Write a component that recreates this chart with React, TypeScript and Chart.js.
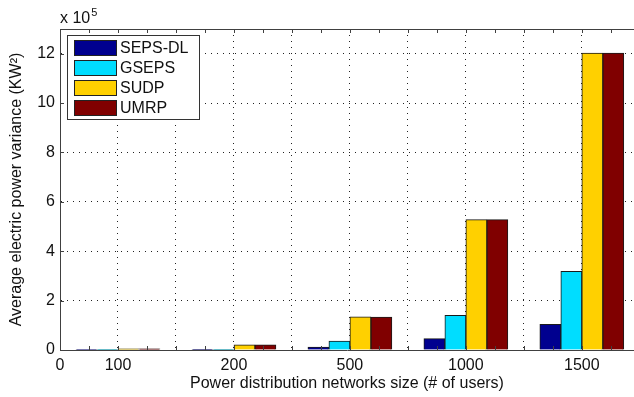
import React, { useEffect, useRef } from "react";
import { Chart, registerables } from "chart.js";

Chart.register(...registerables);

const categories = ["100", "200", "500", "1000", "1500"];
const seriesNames = ["SEPS-DL", "GSEPS", "SUDP", "UMRP"];
const sepsDL = [0.003, 0.01, 0.12, 0.46, 1.04];
const gseps = [0.01, 0.03, 0.36, 1.4, 3.19];
const sudp = [0.05, 0.21, 1.34, 5.28, 12.02];
const umrp = [0.05, 0.21, 1.33, 5.28, 12.02];
const seriesColors = ["#00008F", "#00DDFF", "#FFD000", "#800000"];
const yTicks = [0, 2, 4, 6, 8, 10, 12];

const FONT = "'Liberation Sans', Arial, Helvetica, sans-serif";

const framePlugin = {
  id: "frame",
  afterDatasetsDraw(chart: any) {
    const { ctx, chartArea } = chart;
    const xs = chart.scales.x;
    const ys = chart.scales.y;
    ctx.save();
    ctx.strokeStyle = "#404040";
    ctx.lineWidth = 1;
    ctx.beginPath();
    ctx.moveTo(chartArea.left, Math.round(chartArea.top) + 0.5);
    ctx.lineTo(chartArea.right, Math.round(chartArea.top) + 0.5);
    ctx.stroke();
    for (let v = 0; v <= xs.max; v += 0.25) {
      const px = Math.round(xs.getPixelForValue(v)) + 0.5;
      ctx.beginPath();
      ctx.moveTo(px, chartArea.top);
      ctx.lineTo(px, chartArea.top + 4);
      ctx.moveTo(px, chartArea.bottom);
      ctx.lineTo(px, chartArea.bottom - 4);
      ctx.stroke();
    }
    for (const v of yTicks) {
      const py = Math.round(ys.getPixelForValue(v)) + 0.5;
      ctx.beginPath();
      ctx.moveTo(chartArea.left, py);
      ctx.lineTo(chartArea.left + 4, py);
      ctx.stroke();
    }
    ctx.restore();
  },
  afterDraw(chart: any) {
    const { ctx, chartArea } = chart;
    ctx.save();
    ctx.fillStyle = "#111";
    ctx.textBaseline = "alphabetic";
    ctx.textAlign = "left";
    ctx.font = `16px ${FONT}`;
    const base = "x 10";
    ctx.fillText(base, chartArea.left, 23);
    const w = ctx.measureText(base).width;
    ctx.font = `11px ${FONT}`;
    ctx.fillText("5", chartArea.left + w + 1, 16);
    const lx = 67.5, ly = 35.5, lw = 132, lh = 84;
    ctx.fillStyle = "#ffffff";
    ctx.fillRect(lx, ly, lw, lh);
    ctx.strokeStyle = "#333";
    ctx.lineWidth = 1;
    ctx.strokeRect(lx, ly, lw, lh);
    ctx.font = `16px ${FONT}`;
    ctx.textBaseline = "middle";
    chart.data.datasets.forEach((ds: any, i: number) => {
      const sy = 40.5 + i * 20;
      ctx.fillStyle = ds.backgroundColor;
      ctx.fillRect(74.5, sy, 42, 15);
      ctx.strokeStyle = "#222";
      ctx.strokeRect(74.5, sy, 42, 15);
      ctx.fillStyle = "#111";
      ctx.fillText(ds.label, 120, sy + 8);
    });
    ctx.restore();
  },
};

export default function App() {
  const ref = useRef<HTMLCanvasElement | null>(null);
  useEffect(() => {
    if (!ref.current) return;
    Chart.defaults.font.family = FONT;
    const allSeries = [sepsDL, gseps, sudp, umrp];
    const chart = new Chart(ref.current, {
      type: "bar",
      data: {
        datasets: allSeries.map((vals, si) => ({
          label: seriesNames[si],
          data: vals.map((v, i) => ({ x: i + 0.5, y: v })),
          backgroundColor: seriesColors[si],
          borderColor: "#1a1a1a",
          borderWidth: 1,
          barThickness: 21,
          grouped: true,
        })),
      },
      options: {
        animation: false,
        responsive: false,
        events: [],
        layout: { padding: { top: 29, left: 0, right: 0, bottom: 0 } },
        plugins: { legend: { display: false }, tooltip: { enabled: false } },
        scales: {
          x: {
            type: "linear",
            offset: false,
            min: 0,
            max: 4.95,
            afterBuildTicks: (s: any) => {
              const t = [];
              for (let v = 0; v <= 4.5; v += 0.5) t.push({ value: v });
              s.ticks = t;
            },
            afterFit: (s: any) => {
              s.height = 47;
            },
            ticks: {
              autoSkip: false,
              maxRotation: 0,
              padding: 6,
              color: "#111",
              font: { size: 16 },
              callback: (v: any) => {
                const n = Number(v);
                if (n === 0) return "0";
                const k = n - 0.5;
                if (Number.isInteger(k) && k >= 0 && k < categories.length) return categories[k];
                return "";
              },
            },
            grid: { color: "#222", lineWidth: 1, drawTicks: false, offset: false },
            border: { display: true, color: "#404040", width: 1, dash: [1, 5] },
            title: {
              display: true,
              text: "Power distribution networks size (# of users)",
              color: "#111",
              font: { size: 16 },
              padding: { top: 0, bottom: 4 },
            },
          },
          y: {
            type: "linear",
            min: 0,
            max: 13,
            afterBuildTicks: (s: any) => {
              s.ticks = yTicks.map((v) => ({ value: v }));
            },
            afterFit: (s: any) => {
              s.width = 60;
            },
            ticks: { padding: 5, color: "#111", font: { size: 16 } },
            grid: { color: "#222", lineWidth: 1, drawTicks: false },
            border: { display: true, color: "#404040", width: 1, dash: [1, 5] },
            title: {
              display: true,
              text: "Average electric power variance (KW²)",
              color: "#111",
              font: { size: 16 },
              padding: { top: 7, bottom: 0 },
            },
          },
        },
      },
      plugins: [framePlugin],
    } as any);
    return () => chart.destroy();
  }, []);
  return (
    <div style={{ position: "fixed", left: 0, top: 0, width: 634, height: 397, background: "#fff" }}>
      <canvas ref={ref} width={634} height={397} style={{ display: "block" }} />
    </div>
  );
}
